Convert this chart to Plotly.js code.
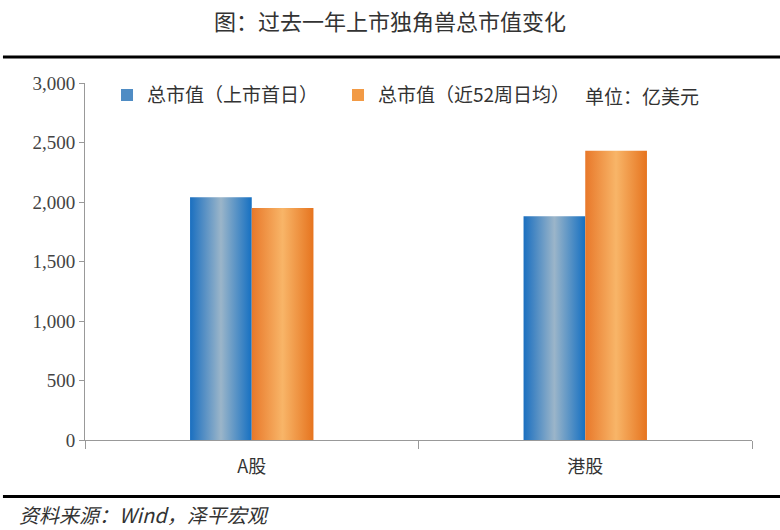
<!DOCTYPE html>
<html><head><meta charset="utf-8">
<script src="https://cdn.plot.ly/plotly-3.0.1.min.js"></script>
<style>html,body{margin:0;padding:0;background:#fff}</style>
</head><body>
<div id="chart" style="width:780px;height:530px"></div>
<script>
var categories = ['A股', '港股'];
var seriesNames = ['总市值（上市首日）', '总市值（近52周日均）'];
var firstDay = [2040, 1880];
var avg52w = [1950, 2430];
var yTicks = [0, 500, 1000, 1500, 2000, 2500, 3000];
var yTickLabels = ['0', '500', '1,000', '1,500', '2,000', '2,500', '3,000'];

var serif = '"Liberation Serif", "DejaVu Serif", serif';
var cjk = '"Noto Sans CJK SC", "Noto Sans", sans-serif';

var traces = [
  {type: 'bar', x: categories, y: firstDay, name: seriesNames[0],
   marker: {color: '#4f8cc4', line: {width: 0}}},
  {type: 'bar', x: categories, y: avg52w, name: seriesNames[1],
   marker: {color: '#f29a45', line: {width: 0}}}
];

var layout = {
  width: 780, height: 530,
  margin: {l: 85, r: 28, t: 83, b: 90},
  paper_bgcolor: '#fff', plot_bgcolor: '#fff',
  barmode: 'group', bargap: 0.63, bargroupgap: 0,
  title: {text: '图：过去一年上市独角兽总市值变化', x: 0.5, xanchor: 'center', y: 0.958, yanchor: 'middle',
          font: {family: cjk, size: 22, color: '#333'}},
  showlegend: true,
  legend: {orientation: 'h', x: 0.033, y: 0.966, xanchor: 'left', yanchor: 'middle',
           font: {family: cjk, size: 19, color: '#333'}, itemwidth: 30, tracegroupgap: 0,
           entrywidth: 186, entrywidthmode: 'pixels',
           bgcolor: 'rgba(0,0,0,0)'},
  xaxis: {type: 'category', showline: true, linecolor: '#999', linewidth: 1,
          ticks: 'outside', tickson: 'boundaries', ticklen: 8, tickcolor: '#999',
          ticklabelstandoff: 10,
          tickfont: {family: cjk, size: 18, color: '#333'}, showgrid: false, zeroline: false},
  yaxis: {range: [0, 3000], tickvals: yTicks, ticktext: yTickLabels, showline: true,
          linecolor: '#999', linewidth: 1, ticks: 'outside', ticklen: 5, tickcolor: '#999',
          tickfont: {family: serif, size: 19, color: '#444'}, showgrid: false, zeroline: false},
  shapes: [
    {type: 'line', xref: 'paper', yref: 'paper', x0: -0.123, x1: 1.042, y0: 1.0728, y1: 1.0728,
     line: {color: '#000', width: 3}},
    {type: 'line', xref: 'paper', yref: 'paper', x0: -0.123, x1: 1.042, y0: -0.158, y1: -0.158,
     line: {color: '#000', width: 3}}
  ],
  annotations: [
    {text: '单位：亿美元', xref: 'paper', yref: 'paper', x: 0.747, y: 0.966, xanchor: 'left', yanchor: 'middle',
     showarrow: false, font: {family: cjk, size: 19, color: '#333'}},
    {text: '<i>资料来源：Wind，泽平宏观</i>', xref: 'paper', yref: 'paper', x: -0.102, y: -0.21,
     xanchor: 'left', yanchor: 'middle', showarrow: false, font: {family: cjk, size: 20, color: '#333'}}
  ]
};

Plotly.newPlot('chart', traces, layout, {displayModeBar: false, staticPlot: true}).then(function (gd) {
  var svg = gd.querySelector('svg.main-svg');
  var ns = 'http://www.w3.org/2000/svg';
  var defs = svg.querySelector('defs') || svg.insertBefore(document.createElementNS(ns, 'defs'), svg.firstChild);
  function grad(id, stops) {
    var g = document.createElementNS(ns, 'linearGradient');
    g.setAttribute('id', id); g.setAttribute('x1', '0'); g.setAttribute('x2', '1');
    g.setAttribute('y1', '0'); g.setAttribute('y2', '0');
    stops.forEach(function (s) {
      var st = document.createElementNS(ns, 'stop');
      st.setAttribute('offset', s[0]); st.setAttribute('stop-color', s[1]);
      g.appendChild(st);
    });
    defs.appendChild(g);
  }
  grad('gBlue', [['0', '#1a6fc0'], ['0.5', '#9bb5c9'], ['1', '#1570c2']]);
  grad('gOrange', [['0', '#e8782a'], ['0.5', '#f8b568'], ['1', '#e6741f']]);
  var groups = gd.querySelectorAll('.barlayer .trace');
  groups.forEach(function (t, i) {
    t.querySelectorAll('.point path').forEach(function (p) {
      p.style.fill = i === 0 ? 'url(#gBlue)' : 'url(#gOrange)';
    });
  });
});
</script>
</body></html>
